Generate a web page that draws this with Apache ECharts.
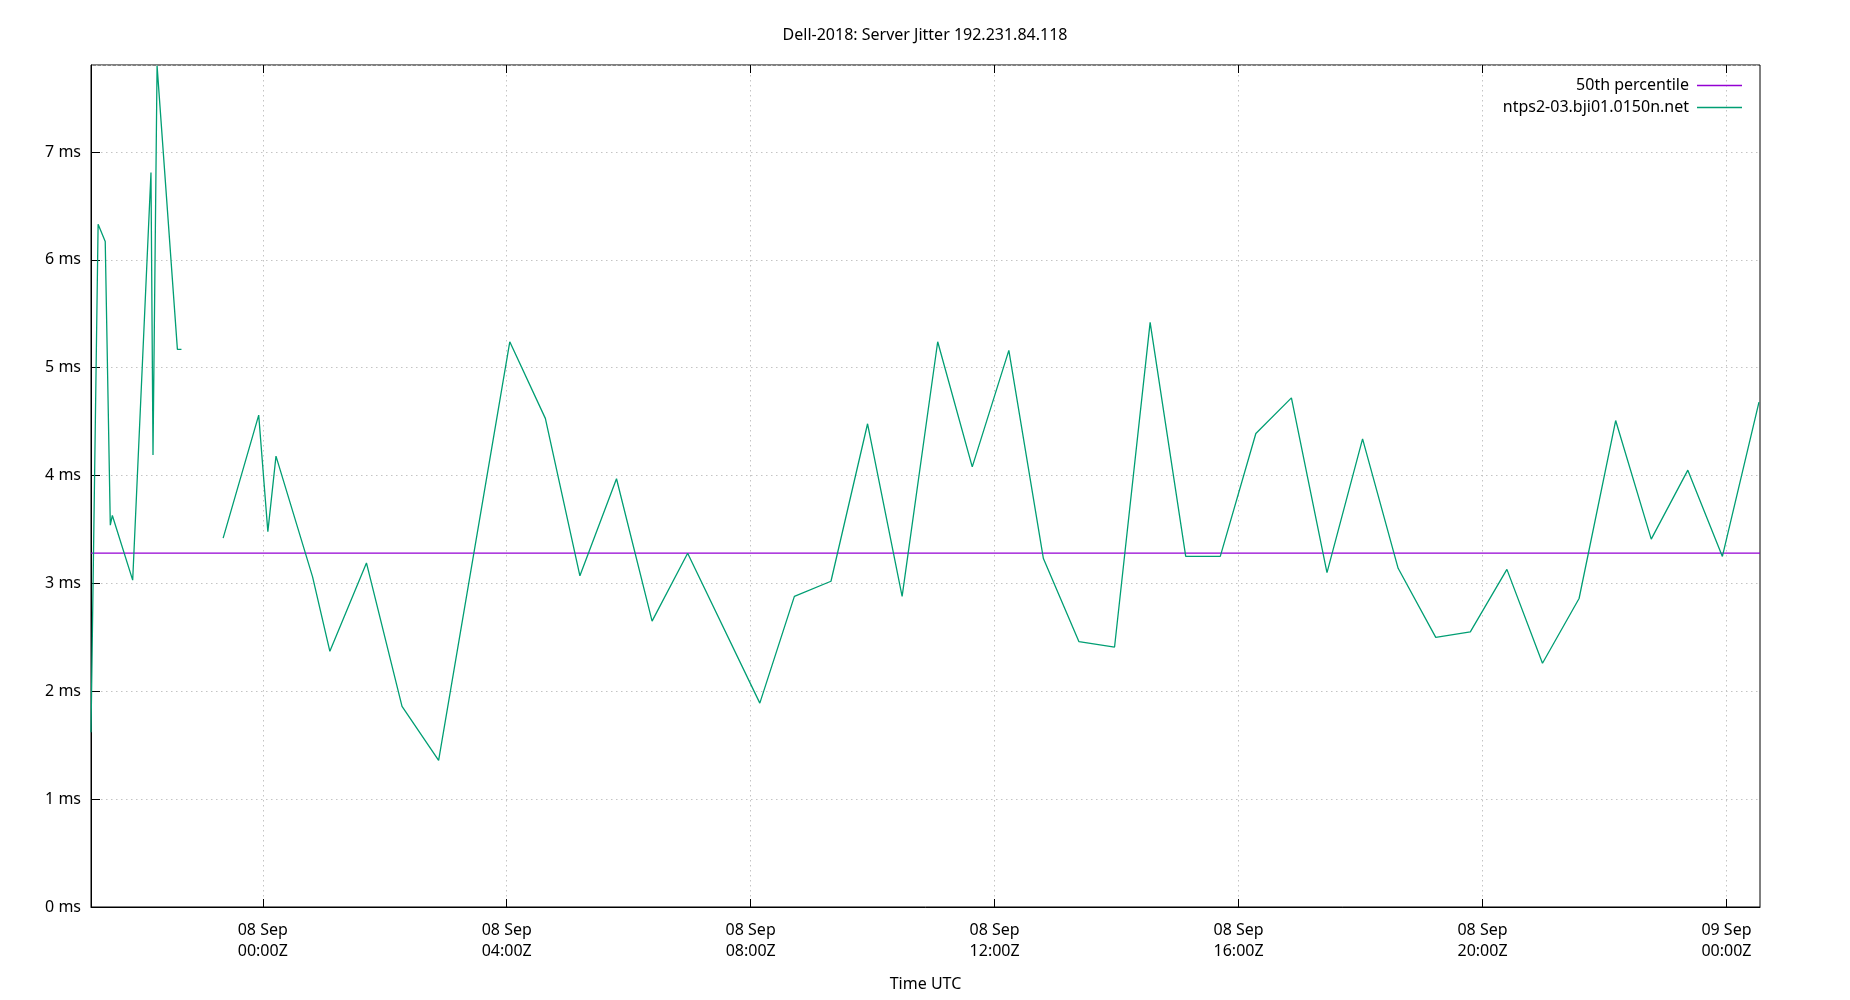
<!DOCTYPE html>
<html lang="en">
<head>
    <meta charset="UTF-8">
    <title>Dell-2018: Server Jitter 192.231.84.118</title>
    <script src="https://cdn.jsdelivr.net/npm/echarts@6.0.0/dist/echarts.min.js"></script>
    <style>
        html, body { margin: 0; padding: 0; background: #fff; }
        #main { width: 1850px; height: 1000px; }
    </style>
</head>
<body>
<div id="main"></div>
<script>
    // sample times (UTC) and jitter in ms, null = no data (gap in the line)
    var times = [
        '2018-09-07T21:11:00Z', '2018-09-07T21:18:00Z', '2018-09-07T21:25:00Z', '2018-09-07T21:30:00Z',
        '2018-09-07T21:32:00Z', '2018-09-07T21:52:00Z', '2018-09-07T22:10:00Z', '2018-09-07T22:12:00Z',
        '2018-09-07T22:16:00Z', '2018-09-07T22:36:00Z', '2018-09-07T22:40:00Z', '2018-09-07T23:00:00Z',
        '2018-09-07T23:21:00Z', '2018-09-07T23:56:00Z', '2018-09-08T00:05:00Z', '2018-09-08T00:13:00Z',
        '2018-09-08T00:49:00Z', '2018-09-08T01:06:00Z', '2018-09-08T01:42:00Z', '2018-09-08T02:17:00Z',
        '2018-09-08T02:53:00Z', '2018-09-08T04:03:00Z', '2018-09-08T04:38:00Z', '2018-09-08T05:12:00Z',
        '2018-09-08T05:48:00Z', '2018-09-08T06:23:00Z', '2018-09-08T06:58:00Z', '2018-09-08T08:09:00Z',
        '2018-09-08T08:43:00Z', '2018-09-08T09:19:00Z', '2018-09-08T09:55:00Z', '2018-09-08T10:29:00Z',
        '2018-09-08T11:04:00Z', '2018-09-08T11:38:00Z', '2018-09-08T12:14:00Z', '2018-09-08T12:48:00Z',
        '2018-09-08T13:23:00Z', '2018-09-08T13:58:00Z', '2018-09-08T14:33:00Z', '2018-09-08T15:08:00Z',
        '2018-09-08T15:42:00Z', '2018-09-08T16:17:00Z', '2018-09-08T16:52:00Z', '2018-09-08T17:27:00Z',
        '2018-09-08T18:02:00Z', '2018-09-08T18:37:00Z', '2018-09-08T19:14:00Z', '2018-09-08T19:48:00Z',
        '2018-09-08T20:24:00Z', '2018-09-08T20:59:00Z', '2018-09-08T21:35:00Z', '2018-09-08T22:11:00Z',
        '2018-09-08T22:46:00Z', '2018-09-08T23:22:00Z', '2018-09-08T23:56:00Z', '2018-09-09T00:32:00Z'
    ];
    var jitter = [
        1.62, 6.33, 6.17, 3.54,
        3.63, 3.03, 6.81, 4.19,
        7.80, 5.17, 5.17, null,
        3.42, 4.56, 3.48, 4.18,
        3.06, 2.37, 3.19, 1.86,
        1.36, 5.24, 4.53, 3.07,
        3.97, 2.65, 3.28, 1.89,
        2.88, 3.02, 4.48, 2.88,
        5.24, 4.08, 5.16, 3.23,
        2.46, 2.41, 5.42, 3.25,
        3.25, 4.39, 4.72, 3.10,
        4.34, 3.14, 2.50, 2.55,
        3.13, 2.26, 2.86, 4.51,
        3.41, 4.05, 3.25, 4.68
    ];
    var median = 3.28;                     // 50th percentile
    var tickTimes = [
        '2018-09-08T00:00:00Z', '2018-09-08T04:00:00Z', '2018-09-08T08:00:00Z', '2018-09-08T12:00:00Z',
        '2018-09-08T16:00:00Z', '2018-09-08T20:00:00Z', '2018-09-09T00:00:00Z'
    ];
    var xStart = '2018-09-07T21:11:00Z';
    var xEnd = '2018-09-09T00:33:00Z';

    var months = ['Jan', 'Feb', 'Mar', 'Apr', 'May', 'Jun', 'Jul', 'Aug', 'Sep', 'Oct', 'Nov', 'Dec'];
    function pad(n) { return (n < 10 ? '0' : '') + n; }
    // "08 Sep\n00:00Z"
    function timeLabel(v) {
        var d = new Date(v);
        return pad(d.getUTCDate()) + ' ' + months[d.getUTCMonth()] + '\n' +
            pad(d.getUTCHours()) + ':' + pad(d.getUTCMinutes()) + 'Z';
    }

    var xMin = Date.parse(xStart);
    var xMax = Date.parse(xEnd);
    var ticks = tickTimes.map(function (t) { return Date.parse(t); });

    var jitterData = [];
    for (var i = 0; i < times.length; i++) {
        jitterData.push([Date.parse(times[i]), jitter[i] === null ? '-' : jitter[i]]);
    }

    var font = 'Noto Sans';
    var chart = echarts.init(document.getElementById('main'));
    var option = {
        animation: false,
        backgroundColor: '#fff',
        title: {
            text: 'Dell-2018: Server Jitter 192.231.84.118',
            left: 'center',
            top: 22,
            textStyle: { fontFamily: font, fontSize: 16, fontWeight: 'normal', color: '#000' }
        },
        legend: {
            orient: 'vertical',
            right: 103,
            top: 72,
            align: 'right',
            icon: 'rect',          // plain line sample, no symbol
            itemWidth: 45,
            itemHeight: 1.3,
            itemGap: 5,
            textStyle: { fontFamily: font, fontSize: 16, color: '#000', lineHeight: 17, padding: [0, 3, 0, 0] },
            data: ['50th percentile', 'ntps2-03.bji01.0150n.net']
        },
        grid: {
            left: 91,
            right: 90,
            top: 65,
            bottom: 93,
            show: true,
            borderColor: '#000',
            borderWidth: 1
        },
        xAxis: [{
            type: 'value',
            min: xMin,
            max: xMax,
            name: 'Time UTC',
            nameLocation: 'middle',
            nameGap: 69,
            nameTextStyle: { fontFamily: font, fontSize: 16, color: '#000' },
            axisLine: { lineStyle: { color: '#000' } },
            axisTick: { inside: true, length: 8, customValues: ticks, lineStyle: { color: '#000' } },
            axisLabel: {
                customValues: ticks,
                margin: 13,
                fontFamily: font,
                fontSize: 16,
                lineHeight: 21,
                color: '#000',
                formatter: timeLabel
            },
            splitLine: { show: true, lineStyle: { color: '#c4c4c4', type: [1.5, 3.5], width: 1 } }
        }, {
            // mirror ticks on the top border
            type: 'value',
            position: 'top',
            min: xMin,
            max: xMax,
            axisLine: { show: false },
            axisTick: { inside: true, length: 8, customValues: ticks, lineStyle: { color: '#000' } },
            axisLabel: { show: false },
            splitLine: { show: false }
        }],
        yAxis: {
            type: 'value',
            min: 0,
            max: 7.806,
            interval: 1,
            axisLine: { show: true, lineStyle: { color: '#000' } },
            axisTick: { inside: true, length: 9, lineStyle: { color: '#000' } },
            axisLabel: {
                margin: 10,
                fontFamily: font,
                fontSize: 16,
                color: '#000',
                showMaxLabel: false,
                formatter: function (v) {
                    return Math.abs(v - Math.round(v)) < 1e-6 ? Math.round(v) + ' ms' : '';
                }
            },
            splitLine: { show: true, lineStyle: { color: '#c4c4c4', type: [1.5, 3.5], width: 1 } }
        },
        series: [{
            name: '50th percentile',
            type: 'line',
            symbol: 'none',
            color: '#9400d3',
            lineStyle: { width: 1.3, color: '#9400d3' },
            data: [[xMin, median], [xMax, median]]
        }, {
            name: 'ntps2-03.bji01.0150n.net',
            type: 'line',
            symbol: 'none',
            connectNulls: false,
            color: '#009e73',
            lineStyle: { width: 1.3, color: '#009e73' },
            data: jitterData
        }]
    };
    chart.setOption(option);
</script>
</body>
</html>
